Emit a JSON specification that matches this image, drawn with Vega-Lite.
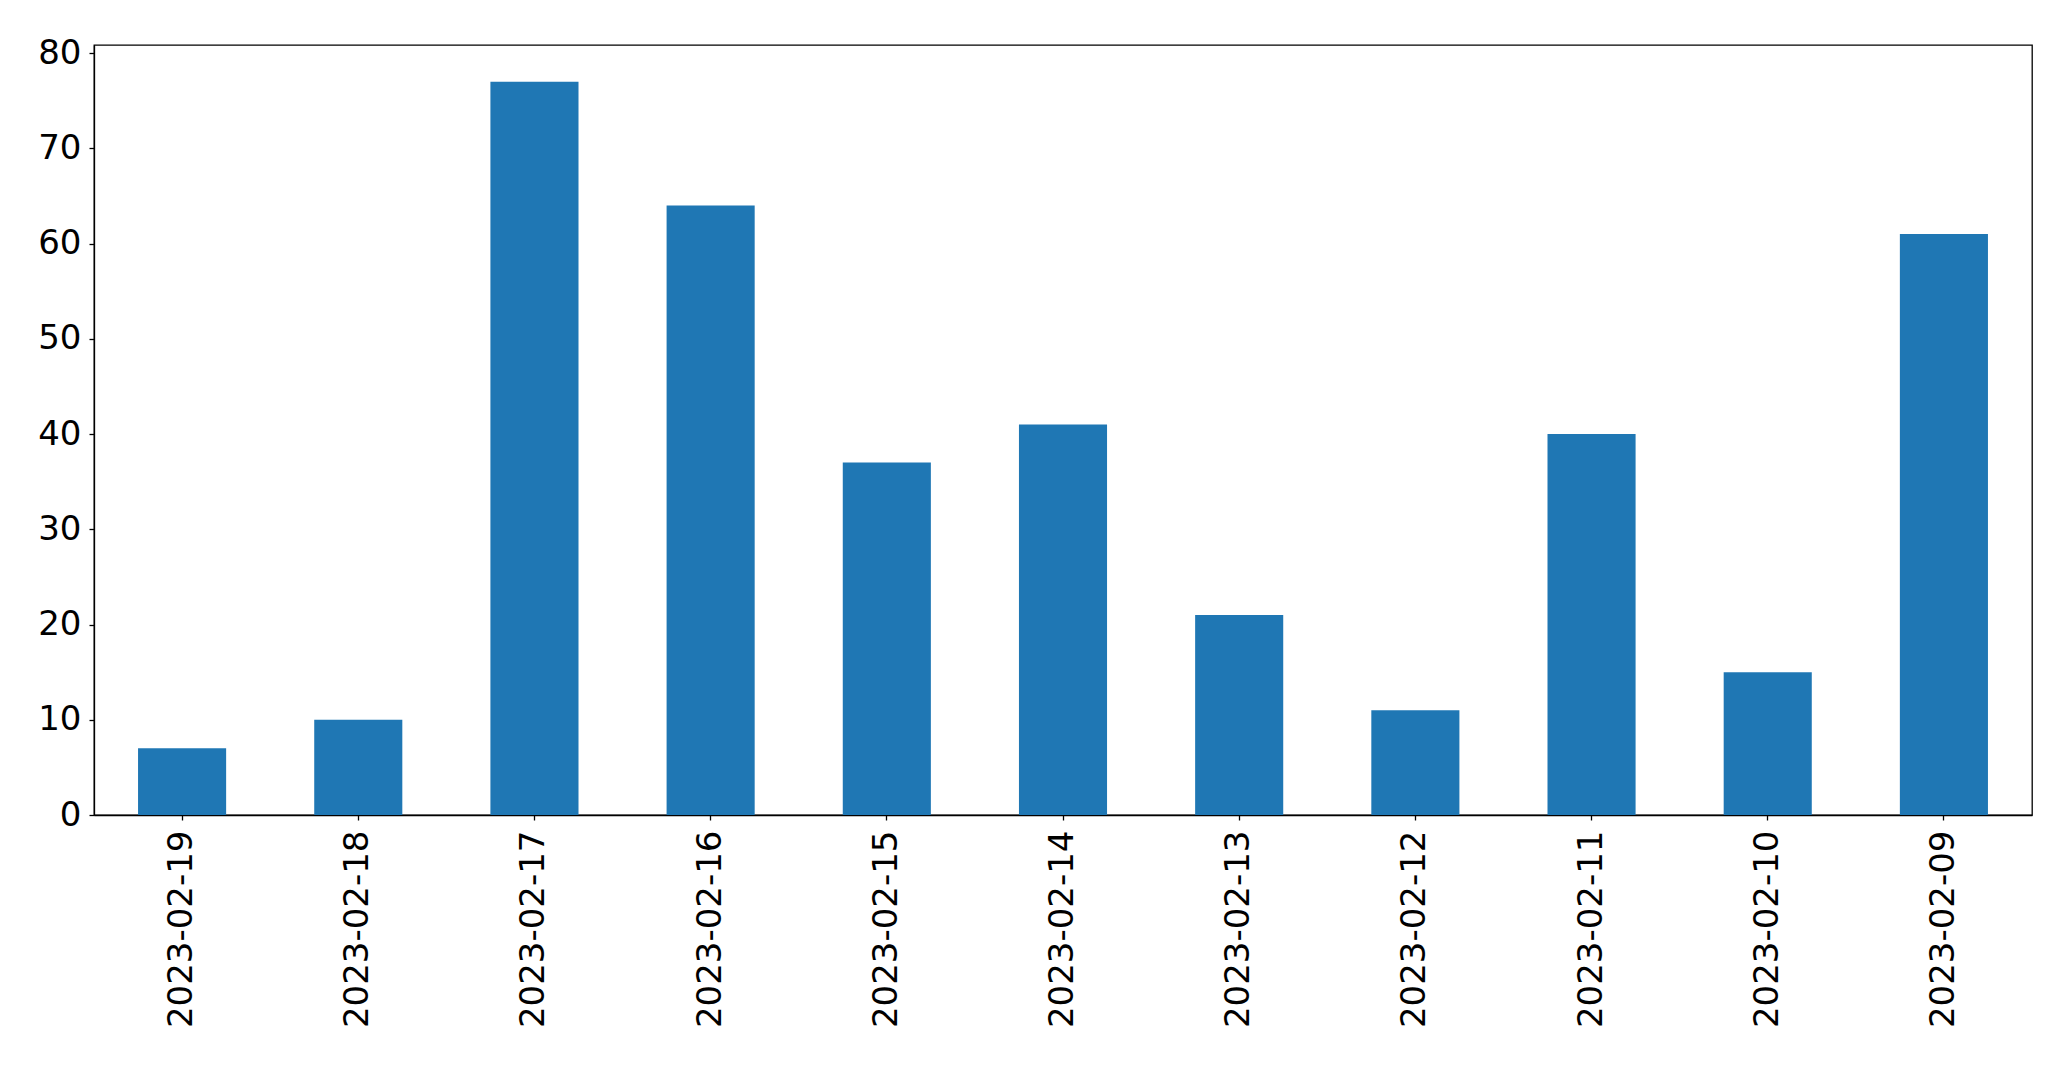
{
  "$schema": "https://vega.github.io/schema/vega-lite/v6.json",
  "autosize": "none",
  "padding": {"left": 94, "top": 45, "right": 39, "bottom": 252},
  "width": 1938,
  "height": 770,
  "background": "white",
  "config": {
    "view": {"stroke": "black", "strokeWidth": 1.3},
    "font": "DejaVu Sans",
    "axis": {
      "labelFont": "DejaVu Sans",
      "labelFontSize": 34,
      "labelColor": "black",
      "labelLimit": 0,
      "domainColor": "black",
      "tickColor": "black",
      "grid": false,
      "title": null,
      "tickSize": 5,
      "tickWidth": 1.3,
      "domainWidth": 1.3
    }
  },
  "data": {
    "values": [
      {"date": "2023-02-19", "count": 7},
      {"date": "2023-02-18", "count": 10},
      {"date": "2023-02-17", "count": 77},
      {"date": "2023-02-16", "count": 64},
      {"date": "2023-02-15", "count": 37},
      {"date": "2023-02-14", "count": 41},
      {"date": "2023-02-13", "count": 21},
      {"date": "2023-02-12", "count": 11},
      {"date": "2023-02-11", "count": 40},
      {"date": "2023-02-10", "count": 15},
      {"date": "2023-02-09", "count": 61}
    ]
  },
  "mark": {"type": "bar", "color": "#1f77b4"},
  "encoding": {
    "x": {
      "field": "date",
      "type": "nominal",
      "sort": null,
      "scale": {"paddingInner": 0.5, "paddingOuter": 0.25},
      "axis": {"labelAngle": 270, "labelAlign": "right", "labelBaseline": "middle", "labelPadding": 10}
    },
    "y": {
      "field": "count",
      "type": "quantitative",
      "scale": {"domain": [0, 80.85], "nice": false, "zero": true},
      "axis": {"values": [0, 10, 20, 30, 40, 50, 60, 70, 80], "labelPadding": 8, "labelBaseline": "middle"}
    }
  }
}
